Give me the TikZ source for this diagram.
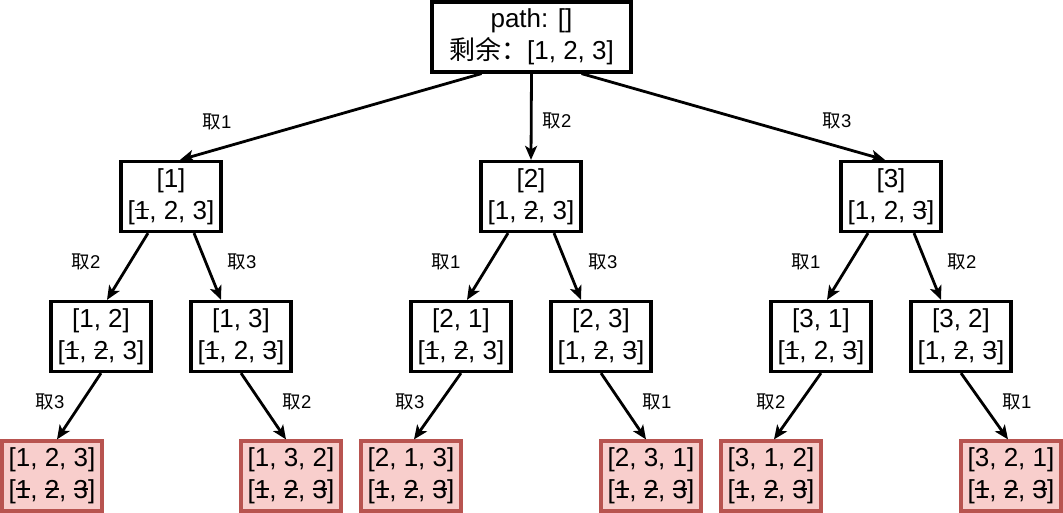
\documentclass[tikz,border=0pt]{standalone}
\usepackage{fontspec}
\setmainfont{Liberation Sans}
\newfontfamily\cjk{Noto Sans CJK SC}
\usetikzlibrary{arrows.meta,calc}
% a digit that has already been used: struck through
\newcommand\used[1]{\sbox0{#1}\rlap{\usebox0}\rule[0.34em]{\wd0}{0.055em}}
\tikzset{
  state/.style={draw, line width=3.2pt, minimum width=100pt, minimum height=70pt,
    inner sep=0pt, align=center, font=\fontsize{26}{32}\selectfont},
  done/.style={state, draw={rgb,255:red,184;green,84;blue,80}, fill={rgb,255:red,248;green,206;blue,204}},
  edge/.style={line width=2.8pt, -{Stealth[length=14pt,width=12pt,inset=3.5pt]}},
  lbl/.style={font=\fontsize{18.5}{20}\selectfont, inner sep=0pt}
}
\begin{document}
\begin{tikzpicture}[x=1pt,y=-1pt]
\useasboundingbox (0,0) rectangle (1063,513);

% root
\node[state, minimum width=199pt] (r) at (531.5,37) {path: []\\{\cjk 剩余：}[1, 2, 3]};

% first choice
\node[state] (a) at (171,196.5) {[1]\\{}[\used{1}, 2, 3]};
\node[state] (b) at (531,196.5) {[2]\\{}[1, \used{2}, 3]};
\node[state] (c) at (891,196.5) {[3]\\{}[1, 2, \used{3}]};

% second choice
\node[state] (ab) at (101,336.5) {[1, 2]\\{}[\used{1}, \used{2}, 3]};
\node[state] (ac) at (241,336.5) {[1, 3]\\{}[\used{1}, 2, \used{3}]};
\node[state] (ba) at (461,336.5) {[2, 1]\\{}[\used{1}, \used{2}, 3]};
\node[state] (bc) at (601,336.5) {[2, 3]\\{}[1, \used{2}, \used{3}]};
\node[state] (ca) at (821,336.5) {[3, 1]\\{}[\used{1}, 2, \used{3}]};
\node[state] (cb) at (961,336.5) {[3, 2]\\{}[1, \used{2}, \used{3}]};

% complete permutations
\node[done] (abc) at (52,476) {[1, 2, 3]\\{}[\used{1}, \used{2}, \used{3}]};
\node[done] (acb) at (291,476) {[1, 3, 2]\\{}[\used{1}, \used{2}, \used{3}]};
\node[done] (bac) at (411,476) {[2, 1, 3]\\{}[\used{1}, \used{2}, \used{3}]};
\node[done] (bca) at (651,476) {[2, 3, 1]\\{}[\used{1}, \used{2}, \used{3}]};
\node[done] (cab) at (771,476) {[3, 1, 2]\\{}[\used{1}, \used{2}, \used{3}]};
\node[done] (cba) at (1011,476) {[3, 2, 1]\\{}[\used{1}, \used{2}, \used{3}]};

% edges
\draw[edge] ($(r.south)+(-50,0)$) -- ($(a.north)+(9,0)$);
\draw[edge] (r.south) -- (b.north);
\draw[edge] ($(r.south)+(50,0)$) -- ($(c.north)+(-6,0)$);

\draw[edge] ($(a.south)+(-23,0)$) -- ($(ab.north)+(6,0)$);
\draw[edge] ($(a.south)+(23,0)$) -- ($(ac.north)+(-20,0)$);
\draw[edge] ($(b.south)+(-23,0)$) -- ($(ba.north)+(6,0)$);
\draw[edge] ($(b.south)+(23,0)$) -- ($(bc.north)+(-20,0)$);
\draw[edge] ($(c.south)+(-23,0)$) -- ($(ca.north)+(6,0)$);
\draw[edge] ($(c.south)+(23,0)$) -- ($(cb.north)+(-20,0)$);

\draw[edge] (ab.south) -- ($(abc.north)+(5,0)$);
\draw[edge] (ac.south) -- ($(acb.north)+(-5,0)$);
\draw[edge] (ba.south) -- ($(bac.north)+(3,0)$);
\draw[edge] (bc.south) -- ($(bca.north)+(-5,0)$);
\draw[edge] (ca.south) -- ($(cab.north)+(3,0)$);
\draw[edge] (cb.south) -- ($(cba.north)+(-3,0)$);

% edge labels
\node[lbl] (t1) at (217,122) {{\cjk 取}1};
\node[lbl] (t2) at (557,121) {{\cjk 取}2};
\node[lbl] (t3) at (837,121) {{\cjk 取}3};

\node[lbl] (t12) at (86,262) {{\cjk 取}2};
\node[lbl] (t13) at (242,262) {{\cjk 取}3};
\node[lbl] (t21) at (446,262) {{\cjk 取}1};
\node[lbl] (t23) at (603,262) {{\cjk 取}3};
\node[lbl] (t31) at (806,262) {{\cjk 取}1};
\node[lbl] (t32) at (962,262) {{\cjk 取}2};

\node[lbl] (t123) at (50,402) {{\cjk 取}3};
\node[lbl] (t132) at (297,402) {{\cjk 取}2};
\node[lbl] (t213) at (410,402) {{\cjk 取}3};
\node[lbl] (t231) at (657,402) {{\cjk 取}1};
\node[lbl] (t312) at (771,402) {{\cjk 取}2};
\node[lbl] (t321) at (1017,402) {{\cjk 取}1};
\end{tikzpicture}
\end{document}
